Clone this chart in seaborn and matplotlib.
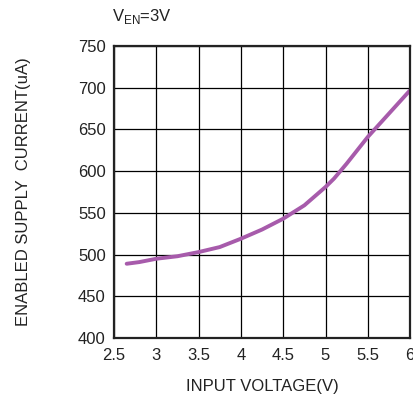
import pandas as pd
import matplotlib.pyplot as plt
import seaborn as sns

# Dados
tensao_entrada = [2.65, 2.8, 3.0, 3.25, 3.5, 3.75, 4.0, 4.25, 4.5, 4.75, 5.0, 5.1, 5.25, 5.5, 5.75, 6.0]
corrente = [489, 491, 495, 498, 503, 509, 519, 530, 543, 559, 581, 591, 609, 641, 669, 697]
x_ticks = [2.5, 3, 3.5, 4, 4.5, 5, 5.5, 6]
y_ticks = [400, 450, 500, 550, 600, 650, 700, 750]

sns.set_theme(style="white")
plt.rcParams['font.family'] = ['Liberation Sans', 'DejaVu Sans']
plt.rcParams['mathtext.fontset'] = 'custom'
plt.rcParams['mathtext.rm'] = 'Liberation Sans'

df = pd.DataFrame({'v': tensao_entrada, 'i': corrente})

fig = plt.figure(figsize=(4.13, 4.00), dpi=100)
ax = fig.add_axes([0.276, 0.155, 0.717, 0.730])

sns.lineplot(data=df, x='v', y='i', ax=ax, color='#A75BAB', linewidth=2.8)

ax.set_xlim(2.5, 6)
ax.set_ylim(400, 750)
ax.set_xticks(x_ticks)
ax.set_xticklabels(['2.5', '3', '3.5', '4', '4.5', '5', '5.5', '6'])
ax.set_yticks(y_ticks)
ax.grid(True, color='black', linewidth=0.9)
for s in ax.spines.values():
    s.set_color('#222222')
    s.set_linewidth(1.6)
ax.tick_params(axis='both', length=0, labelsize=12, colors='#222222')
ax.tick_params(axis='x', pad=7)
ax.tick_params(axis='y', pad=6)

ax.set_xlabel('INPUT VOLTAGE(V)', fontsize=12, color='#222222', labelpad=12)
ax.set_ylabel('ENABLED SUPPLY  CURRENT(uA)', fontsize=12, color='#222222', labelpad=34)

fig.text(0.272, 0.96, r'V$_{\mathregular{EN}}$=3V', fontsize=12, color='#222222',
         ha='left', va='center')

plt.savefig('out.png', dpi=100)
plt.close()
